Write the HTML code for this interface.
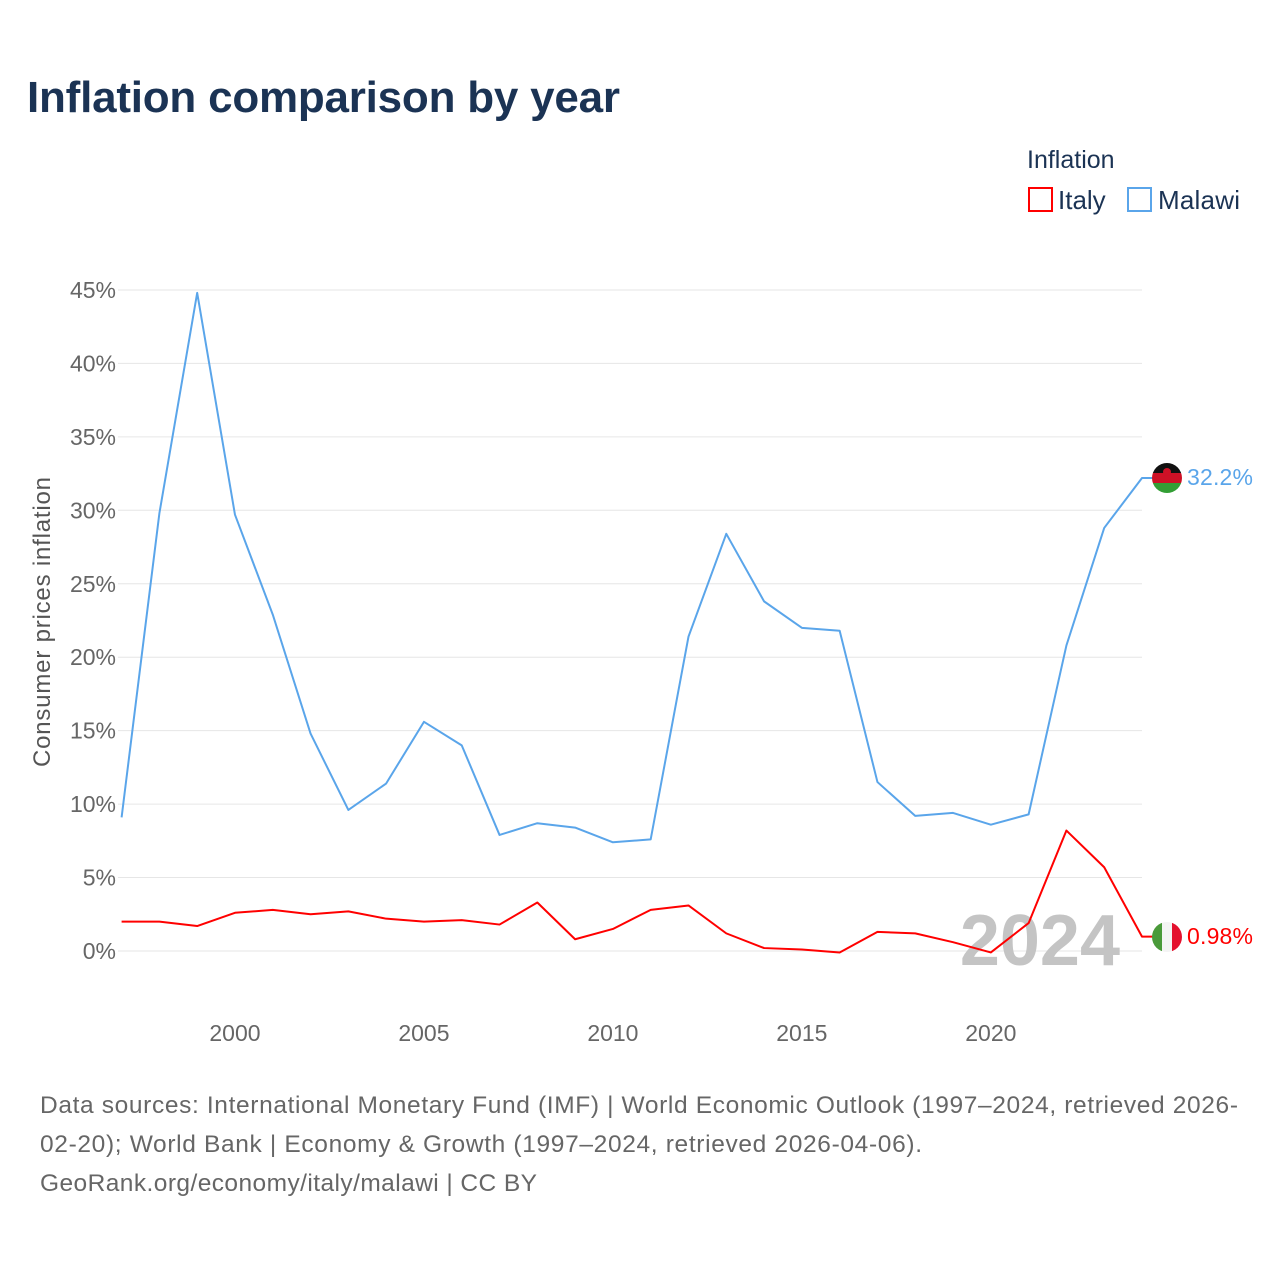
<!DOCTYPE html>
<html><head><meta charset="utf-8"><style>
body{margin:0;width:1280px;height:1280px;background:#fff;font-family:"Liberation Sans",sans-serif;overflow:hidden}
svg text{font-family:"Liberation Sans",sans-serif}
</style></head><body>
<svg width="1280" height="1280">
<text x="27" y="112" font-size="44" font-weight="bold" fill="#1b3354" textLength="593">Inflation comparison by year</text>
<text x="1027" y="168" font-size="25" fill="#1b3354">Inflation</text>
<g><rect x="1029" y="188" width="23" height="23" fill="none" stroke="#f00" stroke-width="2"/><text x="1058" y="209" font-size="26" fill="#1b3354">Italy</text></g>
<g><rect x="1128" y="188" width="23" height="23" fill="none" stroke="#5aa5ea" stroke-width="2"/><text x="1158" y="209" font-size="26" fill="#1b3354" textLength="82">Malawi</text></g>
<g id="grid"></g>
<g id="yt"></g>
<g id="xt"></g>
<text transform="translate(50,622) rotate(-90)" text-anchor="middle" font-size="24" fill="#555" textLength="290">Consumer prices inflation</text>
<text x="1120" y="965" text-anchor="end" font-size="72" font-weight="bold" fill="#c4c4c4">2024</text>
<g id="series"></g>
<g><clipPath id="c1"><circle cx="1167" cy="478" r="15"/></clipPath><g clip-path="url(#c1)"><rect x="1150" y="462" width="34" height="11" fill="#111"/><rect x="1150" y="473" width="34" height="10" fill="#ce1126"/><rect x="1150" y="483" width="34" height="11" fill="#339e35"/><circle cx="1167" cy="472" r="4" fill="#ce1126"/></g></g>
<g><clipPath id="c2"><circle cx="1167" cy="937" r="15"/></clipPath><g clip-path="url(#c2)"><rect x="1150" y="920" width="12" height="34" fill="#4a9a3a"/><rect x="1162" y="920" width="10" height="34" fill="#f4f4f4"/><rect x="1172" y="920" width="12" height="34" fill="#e4112e"/></g></g>
<text x="1187" y="485" font-size="23" fill="#5aa5ea" textLength="66">32.2%</text>
<text x="1187" y="944" font-size="23" fill="#f00" textLength="66">0.98%</text>
<g font-size="24.5" fill="#666">
<text x="40" y="1113" textLength="1198">Data sources: International Monetary Fund (IMF) | World Economic Outlook (1997–2024, retrieved 2026-</text>
<text x="40" y="1152" textLength="882">02-20); World Bank | Economy &amp; Growth (1997–2024, retrieved 2026-04-06).</text>
<text x="40" y="1191" textLength="497">GeoRank.org/economy/italy/malawi | CC BY</text>
</g>
</svg>
<script>
const years=[1997,1998,1999,2000,2001,2002,2003,2004,2005,2006,2007,2008,2009,2010,2011,2012,2013,2014,2015,2016,2017,2018,2019,2020,2021,2022,2023,2024];
const malawi=[9.1,29.8,44.8,29.7,22.9,14.8,9.6,11.4,15.6,14.0,7.9,8.7,8.4,7.4,7.6,21.4,28.4,23.8,22.0,21.8,11.5,9.2,9.4,8.6,9.3,20.8,28.8,32.2];
const italy=[2.0,2.0,1.7,2.6,2.8,2.5,2.7,2.2,2.0,2.1,1.8,3.3,0.8,1.5,2.8,3.1,1.2,0.2,0.1,-0.1,1.3,1.2,0.6,-0.1,1.9,8.2,5.7,0.98];
const yTicks=[0,5,10,15,20,25,30,35,40,45];
const xTicks=[2000,2005,2010,2015,2020];
const NS="http://www.w3.org/2000/svg";
const X=y=>121.6+(y-1997)*(1142-121.6)/27;
const Y=v=>951-v*14.69;
function mk(t,a,p){const e=document.createElementNS(NS,t);for(const k in a)e.setAttribute(k,a[k]);p.appendChild(e);return e;}
const grid=document.getElementById('grid'),yt=document.getElementById('yt'),xt=document.getElementById('xt'),ser=document.getElementById('series');
yTicks.forEach(v=>{
 const l=mk('line',{x1:118,x2:1142,y1:Y(v),y2:Y(v),stroke:'#e6e6e6','stroke-width':1},grid);
 
 
 const t=mk('text',{x:116,y:Y(v)+8,'text-anchor':'end','font-size':23,fill:'#666'},yt);
 t.textContent=v+'%';
 
 
});
xTicks.forEach(v=>{
 const t=mk('text',{x:X(v),y:1041,'text-anchor':'middle','font-size':23,fill:'#666'},xt);
 t.textContent=v;
 
 
});
function line(vals,col,name){
 const d=vals.map((v,i)=>(i?'L':'M')+X(years[i])+','+Y(v)).join('')+'L1155,'+Y(vals[vals.length-1]);
 const p=mk('path',{d:d,fill:'none',stroke:col,'stroke-width':2,'stroke-linejoin':'round'},ser);
 
 
}
line(malawi,'#5aa5ea','malawi-line');
line(italy,'#ff0000','italy-line');
</script>
</body></html>
